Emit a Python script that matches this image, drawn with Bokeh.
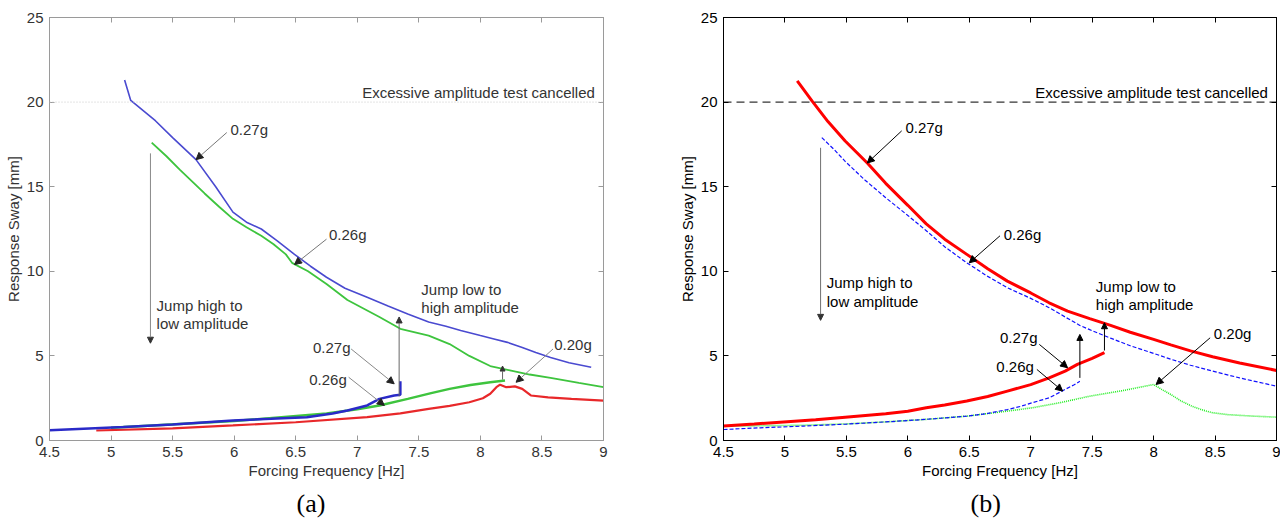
from bokeh.plotting import figure
from bokeh.models import (Range1d, LinearAxis, SingleIntervalTicker, Arrow,
                          NormalHead, Label, Span, Title)
from bokeh.layouts import row
from bokeh.embed import file_html
from bokeh.resources import INLINE

# ---------------- data: panel (a) measured ----------------
a_027_hi_x = [5.11, 5.16, 5.36, 5.50, 5.69, 5.85, 5.99, 6.10, 6.22, 6.35, 6.49, 6.62, 6.75, 6.90, 7.08, 7.25, 7.41, 7.58, 7.72, 7.84, 8.0, 8.11, 8.22, 8.34, 8.45, 8.57, 8.72, 8.90]
a_027_hi_y = [21.3, 20.1, 18.9, 17.9, 16.6, 15.0, 13.5, 12.9, 12.5, 11.8, 11.0, 10.3, 9.65, 9.0, 8.46, 7.95, 7.48, 7.0, 6.75, 6.5, 6.2, 6.0, 5.8, 5.5, 5.2, 4.9, 4.6, 4.33]
a_026_hi_x = [5.33, 5.45, 5.56, 5.66, 5.76, 5.88, 5.99, 6.10, 6.22, 6.32, 6.42, 6.47, 6.60, 6.75, 6.92, 7.05, 7.18, 7.35, 7.58, 7.75, 7.91, 8.08, 8.24, 8.40, 8.57, 8.80, 9.0]
a_026_hi_y = [17.6, 16.8, 16.0, 15.3, 14.6, 13.8, 13.1, 12.6, 12.1, 11.6, 11.0, 10.5, 10.0, 9.25, 8.3, 7.8, 7.3, 6.6, 6.2, 5.7, 5.0, 4.4, 4.15, 3.9, 3.7, 3.4, 3.15]
a_027_lo_x = [4.5, 5.1, 5.5, 5.99, 6.3, 6.59, 6.8, 6.92, 7.08, 7.18, 7.30, 7.35, 7.35]
a_027_lo_y = [0.6, 0.8, 0.95, 1.18, 1.28, 1.38, 1.6, 1.77, 2.07, 2.46, 2.66, 2.7, 3.5]
a_026_lo_x = [5.0, 6.0, 6.75, 7.0, 7.18, 7.41, 7.6, 7.75, 7.92, 8.08, 8.2]
a_026_lo_y = [0.75, 1.15, 1.6, 1.85, 2.07, 2.46, 2.8, 3.05, 3.28, 3.44, 3.55]
a_020_x = [4.88, 5.5, 5.99, 6.5, 7.08, 7.35, 7.58, 7.75, 7.91, 8.02, 8.08, 8.13, 8.16, 8.21, 8.28, 8.34, 8.41, 8.55, 8.74, 9.0]
a_020_y = [0.59, 0.72, 0.89, 1.08, 1.38, 1.6, 1.87, 2.05, 2.26, 2.5, 2.76, 3.15, 3.3, 3.15, 3.2, 3.05, 2.66, 2.55, 2.46, 2.36]

# ---------------- data: panel (b) predicted ----------------
b_027_hi_x = [5.10, 5.22, 5.35, 5.49, 5.58, 5.67, 5.82, 6.0, 6.15, 6.3, 6.48, 6.65, 6.81, 7.0, 7.15, 7.3, 7.48, 7.65, 7.81, 8.0, 8.14, 8.3, 8.48, 8.7, 9.0]
b_027_hi_y = [21.25, 20.07, 18.85, 17.7, 17.05, 16.4, 15.2, 13.9, 12.8, 11.9, 11.0, 10.15, 9.42, 8.72, 8.14, 7.65, 7.2, 6.8, 6.4, 5.98, 5.65, 5.3, 4.95, 4.58, 4.14]
b_026_hi_x = [5.30, 5.40, 5.49, 5.65, 5.82, 6.0, 6.15, 6.3, 6.48, 6.65, 6.81, 7.0, 7.15, 7.28, 7.40, 7.48, 7.65, 7.81, 8.0, 8.14, 8.3, 8.48, 8.7, 9.0]
b_026_hi_y = [17.9, 17.2, 16.5, 15.4, 14.35, 13.3, 12.4, 11.45, 10.5, 9.7, 9.03, 8.4, 7.85, 7.3, 6.8, 6.55, 6.05, 5.6, 5.15, 4.8, 4.45, 4.1, 3.7, 3.21]
b_027_lo_x = [4.5, 4.75, 4.99, 5.25, 5.49, 5.82, 6.0, 6.15, 6.3, 6.48, 6.65, 6.81, 7.0, 7.15, 7.28, 7.38, 7.5, 7.6]
b_027_lo_y = [0.85, 0.97, 1.10, 1.23, 1.38, 1.58, 1.73, 1.93, 2.1, 2.33, 2.6, 2.92, 3.3, 3.7, 4.1, 4.5, 4.85, 5.19]
b_026_lo_x = [4.5, 4.8, 5.15, 5.5, 5.82, 6.15, 6.48, 6.65, 6.81, 6.92, 7.01, 7.15, 7.28, 7.35, 7.40]
b_026_lo_y = [0.65, 0.75, 0.85, 0.97, 1.1, 1.25, 1.44, 1.6, 1.83, 2.02, 2.23, 2.52, 3.02, 3.28, 3.5]
b_020_x = [4.5, 4.8, 5.15, 5.5, 5.82, 6.15, 6.48, 6.75, 7.01, 7.25, 7.48, 7.75, 8.0, 8.07, 8.14, 8.22, 8.31, 8.4, 8.48, 8.6, 8.81, 9.0]
b_020_y = [0.85, 0.87, 0.9, 0.98, 1.1, 1.25, 1.44, 1.68, 1.93, 2.25, 2.62, 2.95, 3.31, 3.0, 2.72, 2.35, 2.03, 1.8, 1.64, 1.53, 1.44, 1.38]

limit_mm = 20
x_lo, x_hi = 4.5, 9
y_lo, y_hi = 0, 25

FONT = "Liberation Sans"
SERIF = "Liberation Serif"


def make_fig(width, left, right, axis_color, text_color):
    p = figure(width=width, height=523,
               x_range=Range1d(x_lo, x_hi), y_range=Range1d(y_lo, y_hi),
               output_backend="svg", toolbar_location=None, tools="",
               min_border_left=left, min_border_right=right,
               min_border_top=17, min_border_bottom=83,
               x_axis_label="Forcing Frequency [Hz]", y_axis_label="Response Sway [mm]")
    p.grid.visible = False
    p.outline_line_color = axis_color
    p.background_fill_color = "white"
    p.border_fill_color = "white"
    p.add_layout(LinearAxis(), "above")
    p.add_layout(LinearAxis(), "right")
    for ax in p.xaxis:
        ax.ticker = SingleIntervalTicker(interval=0.5)
    for ax in p.yaxis:
        ax.ticker = SingleIntervalTicker(interval=5)
    for ax in p.axis:
        ax.axis_line_color = axis_color
        ax.major_tick_line_color = axis_color
        ax.major_tick_in = 5
        ax.major_tick_out = 0
        ax.minor_tick_line_color = None
        ax.major_label_text_font = FONT
        ax.major_label_text_font_size = "15px"
        ax.major_label_text_color = text_color
        ax.axis_label_text_font = FONT
        ax.axis_label_text_font_size = "15px"
        ax.axis_label_text_font_style = "normal"
        ax.axis_label_text_color = text_color
        ax.major_label_standoff = 2
        ax.axis_label_standoff = 2
    for ax in p.above + p.right:
        ax.major_label_text_color = None
        ax.major_label_standoff = 0
        ax.axis_label = None
    return p


def label(p, x, y, text, color, align="left", size="15px", font=FONT):
    p.add_layout(Label(x=x, y=y, text=text, text_font=font, text_font_size=size,
                       text_color=color, text_align=align, text_baseline="middle"))


def arrow(p, x0, y0, x1, y1, line_color, head_color, size=7):
    p.add_layout(Arrow(end=NormalHead(size=size, fill_color=head_color, line_color=head_color),
                       x_start=x0, y_start=y0, x_end=x1, y_end=y1,
                       line_color=line_color, line_width=1))


def caption(p, text, offset):
    p.add_layout(Title(text=text, align="left", offset=offset, text_font=SERIF,
                       text_font_size="26px", text_font_style="normal",
                       text_color="black", standoff=10), "below")


# ---------------- panel (a) ----------------
pa = make_fig(640, 49, 37, "#9a9a9a", "#333333")
pa.add_layout(Span(location=limit_mm, dimension="width", line_color="#c8c8c8",
                   line_dash="1 2", line_width=1))
pa.line(a_020_x, a_020_y, line_color="#e8282a", line_width=2.2)
pa.line(a_026_lo_x, a_026_lo_y, line_color="#3ec43e", line_width=2.5)
pa.line(a_026_hi_x, a_026_hi_y, line_color="#3ec43e", line_width=1.8)
pa.line(a_027_lo_x, a_027_lo_y, line_color="#2a2ac8", line_width=2.5)
pa.line(a_027_hi_x, a_027_hi_y, line_color="#4a4ad0", line_width=1.6)

label(pa, 8.93, 20.55, "Excessive amplitude test cancelled", "#333333", align="right")
label(pa, 5.97, 18.4, "0.27g", "#333333")
arrow(pa, 5.94, 18.2, 5.69, 16.6, "#777777", "#222222")
label(pa, 6.77, 12.15, "0.26g", "#333333")
arrow(pa, 6.75, 11.9, 6.49, 10.4, "#777777", "#222222")
label(pa, 5.37, 7.97, "Jump high to", "#333333")
label(pa, 5.37, 6.89, "low amplitude", "#333333")
arrow(pa, 5.32, 16.97, 5.32, 5.75, "#888888", "#333333", size=6)
label(pa, 7.52, 8.9, "Jump low to", "#333333")
label(pa, 7.52, 7.87, "high amplitude", "#333333")
label(pa, 6.64, 5.47, "0.27g", "#333333")
arrow(pa, 6.95, 5.41, 7.3, 3.35, "#888888", "#222222")
label(pa, 6.61, 3.6, "0.26g", "#333333")
arrow(pa, 6.93, 3.74, 7.22, 2.07, "#888888", "#222222")
label(pa, 8.6, 5.7, "0.20g", "#333333")
arrow(pa, 8.59, 5.41, 8.29, 3.44, "#888888", "#222222")
arrow(pa, 7.34, 2.6, 7.34, 7.3, "#666666", "#333333", size=6)
arrow(pa, 8.18, 3.6, 8.18, 4.4, "#666666", "#333333", size=5)
caption(pa, "(a)", 247)

# ---------------- panel (b) ----------------
pb = make_fig(640, 83, 3, "black", "black")
pb.add_layout(Span(location=limit_mm, dimension="width", line_color="black",
                   line_dash="8 5", line_width=1))
pb.line(b_020_x, b_020_y, line_color="#22ee22", line_width=1.6, line_dash="1 1")
pb.line(b_026_lo_x, b_026_lo_y, line_color="#1010ff", line_width=1.2, line_dash="4 2")
pb.line(b_026_hi_x, b_026_hi_y, line_color="#1010ff", line_width=1.2, line_dash="4 2")
pb.line(b_027_lo_x, b_027_lo_y, line_color="#ff0000", line_width=3)
pb.line(b_027_hi_x, b_027_hi_y, line_color="#ff0000", line_width=3)

label(pb, 8.93, 20.55, "Excessive amplitude test cancelled", "black", align="right")
label(pb, 5.98, 18.5, "0.27g", "black")
arrow(pb, 5.95, 18.3, 5.67, 16.4, "black", "black")
label(pb, 6.78, 12.2, "0.26g", "black")
arrow(pb, 6.75, 12.1, 6.5, 10.5, "black", "black")
label(pb, 5.34, 9.33, "Jump high to", "black")
label(pb, 5.34, 8.24, "low amplitude", "black")
arrow(pb, 5.29, 17.3, 5.29, 7.1, "#707070", "#333333", size=6)
label(pb, 7.53, 9.09, "Jump low to", "black")
label(pb, 7.53, 8.04, "high amplitude", "black")
label(pb, 6.75, 6.07, "0.27g", "black")
arrow(pb, 7.07, 5.68, 7.3, 4.3, "black", "black")
label(pb, 6.72, 4.36, "0.26g", "black")
arrow(pb, 7.05, 4.2, 7.26, 2.92, "black", "black")
label(pb, 8.49, 6.3, "0.20g", "black")
arrow(pb, 8.46, 6.07, 8.02, 3.31, "black", "black")
arrow(pb, 7.4, 3.7, 7.4, 6.27, "black", "black", size=6)
arrow(pb, 7.6, 5.32, 7.6, 6.96, "black", "black", size=6)
caption(pb, "(b)", 247)

layout = row(pa, pb)
open("out.html", "w").write(file_html(layout, INLINE))
